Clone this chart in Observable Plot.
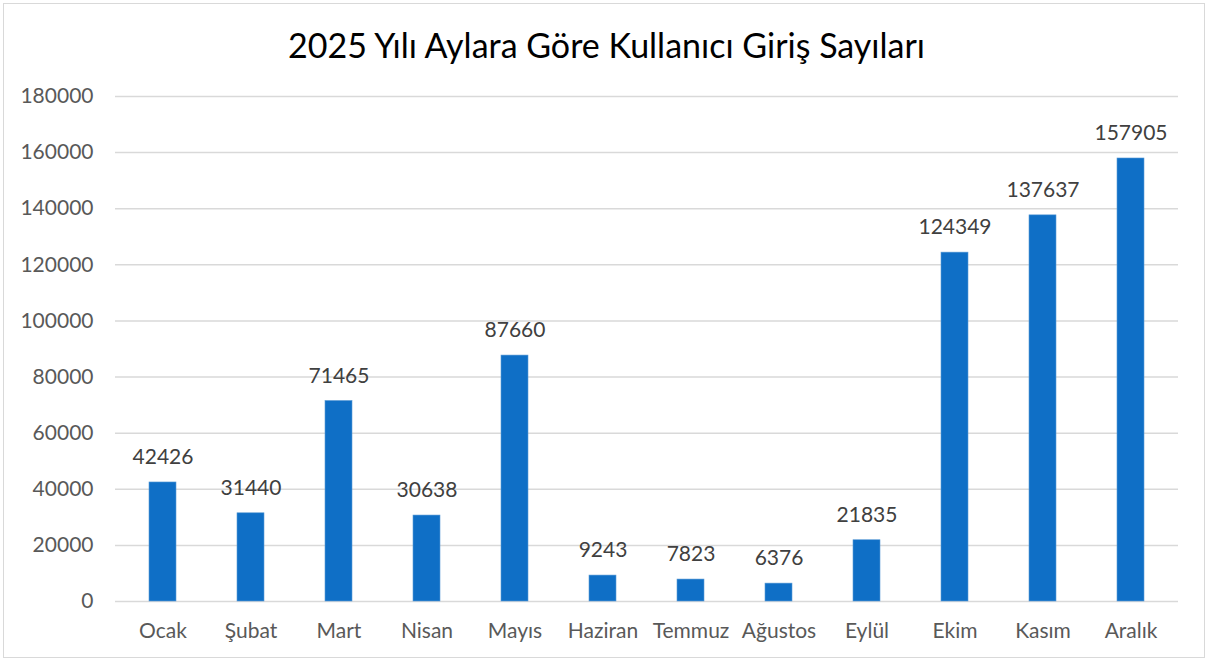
<!DOCTYPE html>
<html>
<head>
<meta charset="utf-8">
<script src="https://cdn.jsdelivr.net/npm/d3@7"></script>
<script src="https://cdn.jsdelivr.net/npm/@observablehq/plot@0.6"></script>
<style>
  html, body { margin: 0; padding: 0; background: #fff; }
  #wrap { position: relative; width: 1213px; height: 665px; overflow: hidden; font-family: Lato, "Open Sans", sans-serif; }
  #frame { position: absolute; left: 3px; top: 3px; width: 1202px; height: 655px; border: 1.5px solid #d9d9d9; box-sizing: border-box; pointer-events: none; }
  #title { position: absolute; left: 0; top: 0; width: 1213px; height: 80px; text-align: center; line-height: 90px; font-size: 34px; color: #000; }
  #chart { position: absolute; left: 0; top: 80px; }
</style>
</head>
<body>
<div id="wrap">
  <div id="title">2025 Yılı Aylara Göre Kullanıcı Giriş Sayıları</div>
  <div id="chart"></div>
  <div id="frame"></div>
</div>
<script>
const months = ["Ocak", "Şubat", "Mart", "Nisan", "Mayıs", "Haziran", "Temmuz", "Ağustos", "Eylül", "Ekim", "Kasım", "Aralık"];
const logins = [42426, 31440, 71465, 30638, 87660, 9243, 7823, 6376, 21835, 124349, 137637, 157905];
const yTicks = [0, 20000, 40000, 60000, 80000, 100000, 120000, 140000, 160000, 180000];

const data = months.map((m, i) => ({month: m, value: logins[i]}));

const chart = Plot.plot({
  width: 1213,
  height: 585,
  marginTop: 16,
  marginBottom: 64,
  marginLeft: 115,
  marginRight: 35,
  style: {fontFamily: "Lato, 'Open Sans', sans-serif", fontSize: "21px", background: "transparent"},
  x: {domain: months, paddingInner: 0.69, paddingOuter: 0.345, label: null},
  y: {domain: [0, 180000], label: null},
  marks: [
    Plot.gridY(yTicks, {stroke: "#d9d9d9", strokeOpacity: 1, strokeWidth: 1.5}),
    Plot.axisY(yTicks, {tickSize: 0, tickPadding: 22, tickFormat: d => String(d), fill: "#595959", fontSize: 21, label: null}),
    Plot.axisX({tickSize: 0, tickPadding: 22, fill: "#595959", fontSize: 21, label: null}),
    Plot.barY(data, {x: "month", y: "value", fill: "#0f6fc6", stroke: "#5b9bd5", strokeWidth: 0.6}),
    Plot.text(data, {x: "month", y: "value", text: d => String(d.value), dy: -25, fill: "#404040", fontSize: 21})
  ]
});
document.getElementById("chart").appendChild(chart);
</script>
</body>
</html>
